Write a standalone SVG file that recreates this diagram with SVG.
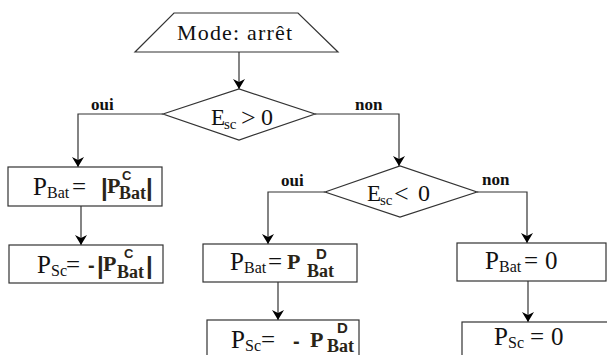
<svg xmlns="http://www.w3.org/2000/svg" width="607" height="355" viewBox="0 0 607 355">
<defs>
<marker id="arr" markerUnits="userSpaceOnUse" markerWidth="12" markerHeight="12" refX="10" refY="6" orient="auto">
<path d="M0,0 L10,6 L0,12 L3,6 z" fill="#000"/>
</marker>
<style>
.s{fill:#fff;stroke:#333;stroke-width:1.2}
.c{fill:none;stroke:#333;stroke-width:1.2;marker-end:url(#arr)}
.t{font-family:'Liberation Serif','DejaVu Serif',serif;fill:#111}
.b{font-family:'Liberation Serif','DejaVu Serif',serif;font-weight:bold;fill:#2a2418}
.k{font-family:'Liberation Sans','DejaVu Sans',sans-serif;font-weight:bold;fill:#2a2418}
.lab{font-family:'Liberation Serif','DejaVu Serif',serif;font-weight:bold;font-size:17px;fill:#111}
</style>
</defs>
<rect width="607" height="355" fill="#fff"/>
<g id="connectors">
<path class="c" d="M239,52 V89"/>
<path class="c" d="M163,114 H78 V167"/>
<path class="c" d="M315,114 H399 V166"/>
<path class="c" d="M81,206 V245"/>
<path class="c" d="M325,192 H268 V244"/>
<path class="c" d="M477,192 H527 V243"/>
<path class="c" d="M278,282 V320"/>
<path class="c" d="M528,281 V322"/>
<text class="lab" x="91" y="110" font-family="Liberation Serif, serif">oui</text>
<text class="lab" x="355" y="110" font-family="Liberation Serif, serif">non</text>
<text class="lab" x="281" y="186" font-family="Liberation Serif, serif">oui</text>
<text class="lab" x="482" y="185" font-family="Liberation Serif, serif">non</text>
</g>
<g id="start" font-family="Liberation Serif, serif">
<polygon class="s" points="174,13 298,13 338,52 135,52"/>
<text class="t" x="177" y="40" font-size="22" textLength="115" font-family="Liberation Serif, serif">Mode: arrêt</text>
</g>
<g id="d1" font-family="Liberation Serif, serif">
<polygon class="s" points="163,114 239,89 315,114 239,140"/>
<text class="t" x="211" y="125" font-size="23">E</text>
<text class="t" x="224" y="129" font-size="15">sc</text>
<text class="t" x="241" y="126" font-size="26" fill="#555">&gt;</text>
<text class="t" x="261" y="125" font-size="24">0</text>
</g>
<g id="d2" font-family="Liberation Serif, serif">
<polygon class="s" points="325,192 400,166 477,192 400,217"/>
<text class="t" x="367" y="201" font-size="23">E</text>
<text class="t" x="380" y="205" font-size="15">sc</text>
<text class="t" x="394" y="202" font-size="26" fill="#555">&lt;</text>
<text class="t" x="418" y="201" font-size="24">0</text>
</g>
<g id="b1" font-family="Liberation Serif, serif">
<rect class="s" x="8" y="167" width="154" height="39"/>
<text class="t" x="33" y="195" font-size="25">P</text>
<text class="t" x="47" y="198" font-size="16">Bat</text>
<text class="t" x="72" y="195" font-size="25">=</text>
<text class="k" x="101" y="196" font-size="24">|</text>
<text class="b" x="107" y="193" font-size="22">P</text>
<text class="k" x="122" y="180" font-size="13">C</text>
<text class="b" x="119" y="199" font-size="18">Bat</text>
<text class="k" x="146" y="196" font-size="24">|</text>
</g>
<g id="b2" font-family="Liberation Serif, serif">
<rect class="s" x="9" y="245" width="154" height="38"/>
<text class="t" x="37" y="273" font-size="25">P</text>
<text class="t" x="51" y="276" font-size="16">Sc</text>
<text class="t" x="66" y="273" font-size="25">=</text>
<text class="k" x="88" y="272" font-size="20">-</text>
<text class="k" x="97" y="274" font-size="24">|</text>
<text class="b" x="103" y="271" font-size="22">P</text>
<text class="k" x="124" y="258" font-size="13">C</text>
<text class="b" x="117" y="278" font-size="18">Bat</text>
<text class="k" x="146" y="274" font-size="24">|</text>
</g>
<g id="b3" font-family="Liberation Serif, serif">
<rect class="s" x="203" y="244" width="154" height="38"/>
<text class="t" x="230" y="270" font-size="25">P</text>
<text class="t" x="244" y="273" font-size="16">Bat</text>
<text class="t" x="268" y="270" font-size="25">=</text>
<text class="b" x="287" y="269" font-size="22">P</text>
<text class="k" x="316" y="259" font-size="15">D</text>
<text class="b" x="307" y="277" font-size="18">Bat</text>
</g>
<g id="b4" font-family="Liberation Serif, serif">
<rect class="s" x="207" y="320" width="152" height="45"/>
<text class="t" x="231" y="348" font-size="25">P</text>
<text class="t" x="245" y="351" font-size="16">Sc</text>
<text class="t" x="261" y="348" font-size="25">=</text>
<text class="k" x="293" y="348" font-size="20">-</text>
<text class="b" x="310" y="347" font-size="22">P</text>
<text class="k" x="337" y="333" font-size="15">D</text>
<text class="b" x="327" y="352" font-size="18">Bat</text>
</g>
<g id="b5" font-family="Liberation Serif, serif">
<rect class="s" x="457" y="243" width="149" height="38"/>
<text class="t" x="485" y="269" font-size="25">P</text>
<text class="t" x="499" y="272" font-size="16">Bat</text>
<text class="t" x="524" y="269" font-size="25">=</text>
<text class="t" x="545" y="269" font-size="25">0</text>
</g>
<g id="b6" font-family="Liberation Serif, serif">
<rect class="s" x="462" y="322" width="160" height="45"/>
<text class="t" x="494" y="345" font-size="25">P</text>
<text class="t" x="508" y="348" font-size="16">Sc</text>
<text class="t" x="530" y="345" font-size="25">=</text>
<text class="t" x="551" y="345" font-size="25">0</text>
</g>
</svg>
